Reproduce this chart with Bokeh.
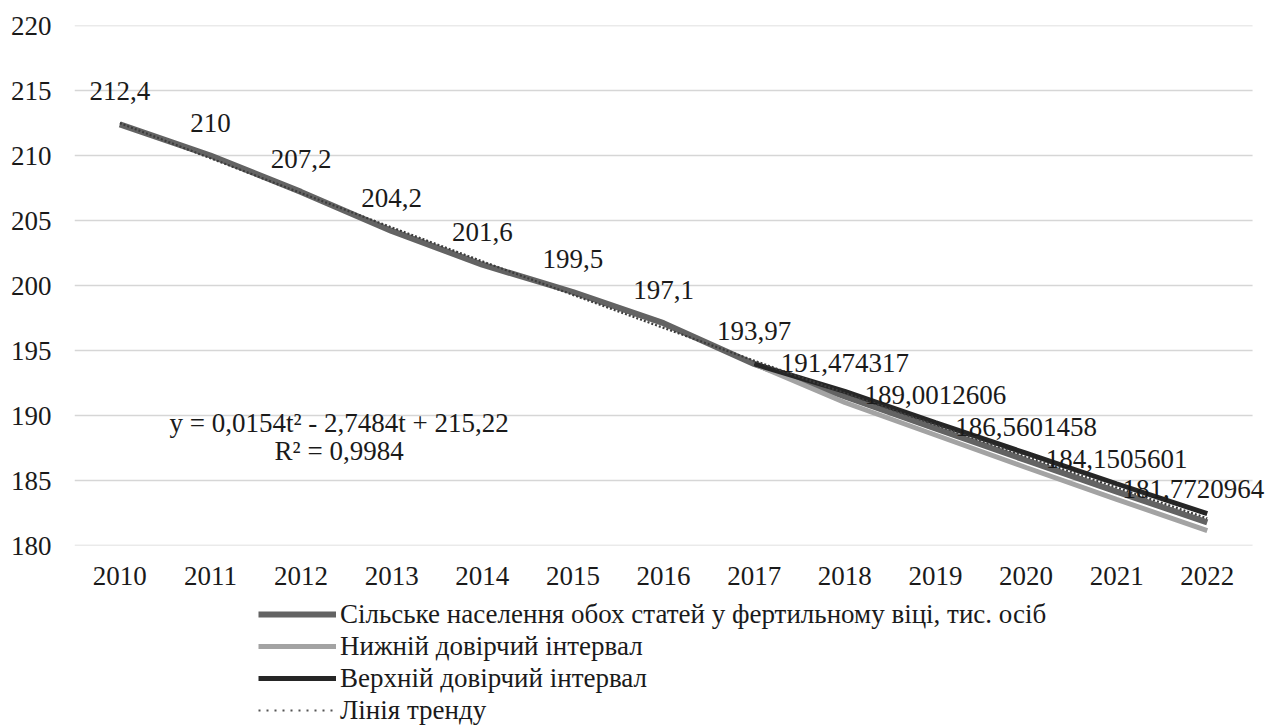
from bokeh.plotting import figure
from bokeh.layouts import column
from bokeh.models import Legend, LegendItem, FixedTicker, Range1d, Label, ColumnDataSource
from bokeh.core.properties import value
from bokeh.embed import file_html
from bokeh.resources import INLINE

years = [2010, 2011, 2012, 2013, 2014, 2015, 2016, 2017, 2018, 2019, 2020, 2021, 2022]
main_values = [212.4, 210, 207.2, 204.2, 201.6, 199.5, 197.1, 193.97,
               191.474317, 189.0012606, 186.5601458, 184.1505601, 181.7720964]
main_labels = ["212,4", "210", "207,2", "204,2", "201,6", "199,5", "197,1", "193,97",
               "191,474317", "189,0012606", "186,5601458", "184,1505601", "181,7720964"]
ci_years = [2017, 2018, 2019, 2020, 2021, 2022]
lower_values = [193.97, 191.0, 188.5, 186.0, 183.55, 181.15]
upper_values = [193.97, 191.85, 189.45, 187.1, 184.75, 182.45]
trend_values = [212.49, 209.79, 207.11, 204.47, 201.86, 199.28, 196.74, 194.22,
                191.73, 189.28, 186.85, 184.46, 182.09]
y_ticks = [180, 185, 190, 195, 200, 205, 210, 215, 220]

series_names = ["Сільське населення обох статей у фертильному віці, тис. осіб",
                "Нижній довірчий інтервал",
                "Верхній довірчий інтервал",
                "Лінія тренду"]
equation_lines = ["y = 0,0154t² - 2,7484t + 215,22", "R² = 0,9984"]

FONT = "Liberation Serif, Times New Roman, serif"
X_START, X_END = 2009.5, 2022.5

MAIN_STYLE = dict(line_color="#636363", line_width=6)
LOW_STYLE = dict(line_color="#a3a3a3", line_width=5)
UP_STYLE = dict(line_color="#262626", line_width=5)

p = figure(width=1276, height=600, output_backend="svg", toolbar_location=None,
           x_range=Range1d(X_START, 2022.72), y_range=Range1d(180, 220),
           min_border_left=74, min_border_right=4, min_border_top=25, min_border_bottom=55)
p.outline_line_color = None
p.xgrid.grid_line_color = None
p.ygrid.grid_line_color = None

p.yaxis.ticker = FixedTicker(ticks=y_ticks)
p.xaxis.ticker = FixedTicker(ticks=years)
for ax in (p.xaxis[0], p.yaxis[0]):
    ax.axis_line_color = None
    ax.major_tick_line_color = None
    ax.minor_tick_line_color = None
    ax.major_label_text_font = FONT
    ax.major_label_text_font_size = "27px"
    ax.major_label_text_color = "#1a1a1a"
p.yaxis.major_label_standoff = 17
p.xaxis.major_label_standoff = 15

# horizontal gridlines spanning the category area only
p.segment(x0=[X_START] * len(y_ticks), y0=y_ticks, x1=[X_END] * len(y_ticks), y1=y_ticks,
          line_color="#d6d6d6", line_width=1.3)

# data labels are centred above their points; the last one is nudged left to stay inside
label_dx = [0] * (len(years) - 1) + [-14]
src = ColumnDataSource(dict(x=years, y=main_values, lab=main_labels, trend=trend_values, dx=label_dx))
p.line("x", "y", source=src, **MAIN_STYLE)
p.line(ci_years, lower_values, **LOW_STYLE)
p.line(ci_years, upper_values, **UP_STYLE)
p.line("x", "trend", source=src, line_color="#3c3c3c", line_width=2.2, line_dash="2 2")

p.text("x", "y", text="lab", source=src, text_align="center", text_baseline="middle",
       x_offset="dx", y_offset=-33, text_font=value(FONT), text_font_size="27px",
       text_color="#1a1a1a")

p.add_layout(Label(x=2012.42, y=189.4, text=equation_lines[0], text_align="center",
                   text_baseline="middle", text_font=FONT, text_font_size="27px",
                   text_color="#1a1a1a"))
p.add_layout(Label(x=2012.42, y=187.3, text=equation_lines[1], text_align="center",
                   text_baseline="middle", text_font=FONT, text_font_size="27px",
                   text_color="#1a1a1a"))

# legend panel below the chart (dummy off-screen glyphs provide the legend samples)
q = figure(width=1276, height=126, output_backend="svg", toolbar_location=None,
           x_axis_type=None, y_axis_type=None, x_range=Range1d(0, 1), y_range=Range1d(0, 1),
           min_border=0, min_border_left=0, min_border_right=0, min_border_top=0,
           min_border_bottom=0)
q.outline_line_color = None
q.xgrid.grid_line_color = None
q.ygrid.grid_line_color = None
off_x, off_y = [0, 1], [-5, -5]
l_main = q.line(off_x, off_y, **MAIN_STYLE)
l_low = q.line(off_x, off_y, **LOW_STYLE)
l_up = q.line(off_x, off_y, **UP_STYLE)
l_trend = q.line(off_x, off_y, line_color="#555555", line_width=2, line_dash="2 6")

legend = Legend(items=[LegendItem(label=series_names[0], renderers=[l_main]),
                       LegendItem(label=series_names[1], renderers=[l_low]),
                       LegendItem(label=series_names[2], renderers=[l_up]),
                       LegendItem(label=series_names[3], renderers=[l_trend])],
                location=(184, 0), orientation="vertical",
                padding=0, margin=0, spacing=0, glyph_width=78, glyph_height=32,
                label_height=32, label_standoff=4,
                label_text_font=FONT, label_text_font_size="27px", label_text_color="#1a1a1a",
                border_line_color=None, background_fill_alpha=0)
q.add_layout(legend, "center")

layout = column(p, q, spacing=0)
open("out.html", "w").write(file_html(layout, INLINE))
